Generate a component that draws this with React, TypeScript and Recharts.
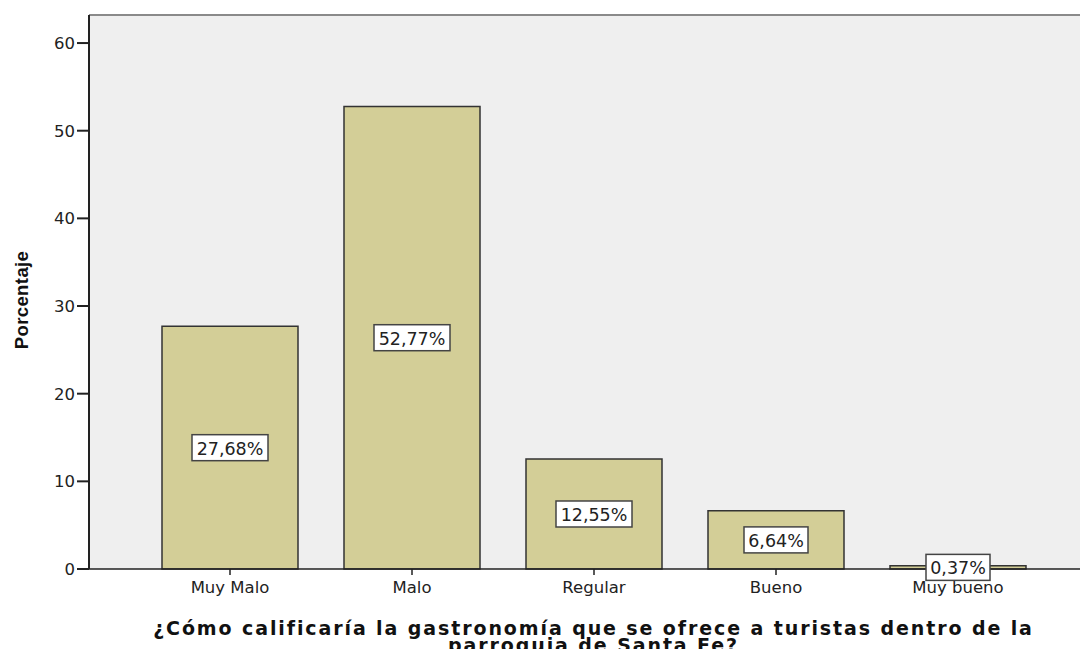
import React from "react";
import {
  BarChart,
  Bar,
  XAxis,
  YAxis,
  CartesianGrid,
  LabelList,
  ReferenceLine,
} from "recharts";

const categories = ["Muy Malo", "Malo", "Regular", "Bueno", "Muy bueno"];
const porcentajes = [27.68, 52.77, 12.55, 6.64, 0.37];
const yTicks = [0, 10, 20, 30, 40, 50, 60];

const data = categories.map((c, i) => ({ name: c, pct: porcentajes[i] }));

const FONT = "'DejaVu Sans', Verdana, sans-serif";

const fmt = (v: number) => v.toFixed(2).replace(".", ",") + "%";

const PctLabel = (props: any) => {
  const { x, y, width, height, value } = props;
  const cx = Number(x) + Number(width) / 2;
  const cy = Number(y) + Number(height) / 2;
  const txt = fmt(Number(value));
  const w = txt.length * 12 + 4;
  const h = 26;
  return (
    <g>
      <rect
        x={cx - w / 2}
        y={cy - h / 2}
        width={w}
        height={h}
        fill="#fff"
        stroke="#444"
        strokeWidth={1.5}
      />
      <text
        x={cx}
        y={cy + 1}
        textAnchor="middle"
        dominantBaseline="central"
        fontFamily={FONT}
        fontSize={17.5}
        fill="#222"
      >
        {txt}
      </text>
    </g>
  );
};

const XTitle = (props: any) => {
  const { viewBox } = props;
  const cx = viewBox.x + viewBox.width / 2 + 5;
  return (
    <text
      x={cx}
      textAnchor="middle"
      fontFamily={FONT}
      fontWeight="bold"
      fontSize={19}
      letterSpacing={1.9}
      fill="#111"
    >
      <tspan x={cx} y={635}>
        ¿Cómo calificaría la gastronomía que se ofrece a turistas dentro de la
      </tspan>
      <tspan x={cx} y={652}>
        parroquia de Santa Fe?
      </tspan>
    </text>
  );
};

const YTitle = (props: any) => {
  const { viewBox } = props;
  const cy = viewBox.y + viewBox.height / 2 + 8;
  return (
    <text
      x={28}
      y={cy}
      transform={`rotate(-90, 28, ${cy})`}
      textAnchor="middle"
      fontFamily="'Liberation Sans', Arial, sans-serif"
      fontWeight="bold"
      fontSize={18.5}
      letterSpacing={0.4}
      fill="#111"
    >
      Porcentaje
    </text>
  );
};

export default function App() {
  return (
    <div style={{ margin: -8, background: "#fff" }}>
      <BarChart
        width={1088}
        height={657}
        data={data}
        margin={{ top: 15, right: 0, bottom: 0, left: 0 }}
        barCategoryGap={23}
      >
        <CartesianGrid
          fill="#EFEFEF"
          horizontal={false}
          vertical={false}
        />
        <ReferenceLine y={63.2} stroke="#8a8a8a" strokeWidth={2} />
        <XAxis
          dataKey="name"
          height={88}
          padding={{ left: 50, right: 39 }}
          tickSize={6}
          tickMargin={6}
          axisLine={{ stroke: "#222", strokeWidth: 1.5 }}
          tickLine={{ stroke: "#222", strokeWidth: 1.5 }}
          tick={{ fontFamily: FONT, fontSize: 16.5, fill: "#222" }}
          interval={0}
          label={<XTitle />}
        />
        <YAxis
          width={89}
          domain={[0, 63.2]}
          ticks={yTicks}
          tickSize={12}
          tickMargin={2}
          axisLine={{ stroke: "#222", strokeWidth: 2 }}
          tickLine={{ stroke: "#222", strokeWidth: 2 }}
          tick={{ fontFamily: FONT, fontSize: 16.5, fill: "#222" }}
          label={<YTitle />}
        />
        <Bar
          dataKey="pct"
          fill="#D3CE97"
          stroke="#333"
          strokeWidth={1.5}
          isAnimationActive={false}
        >
          <LabelList dataKey="pct" content={<PctLabel />} />
        </Bar>
      </BarChart>
    </div>
  );
}
